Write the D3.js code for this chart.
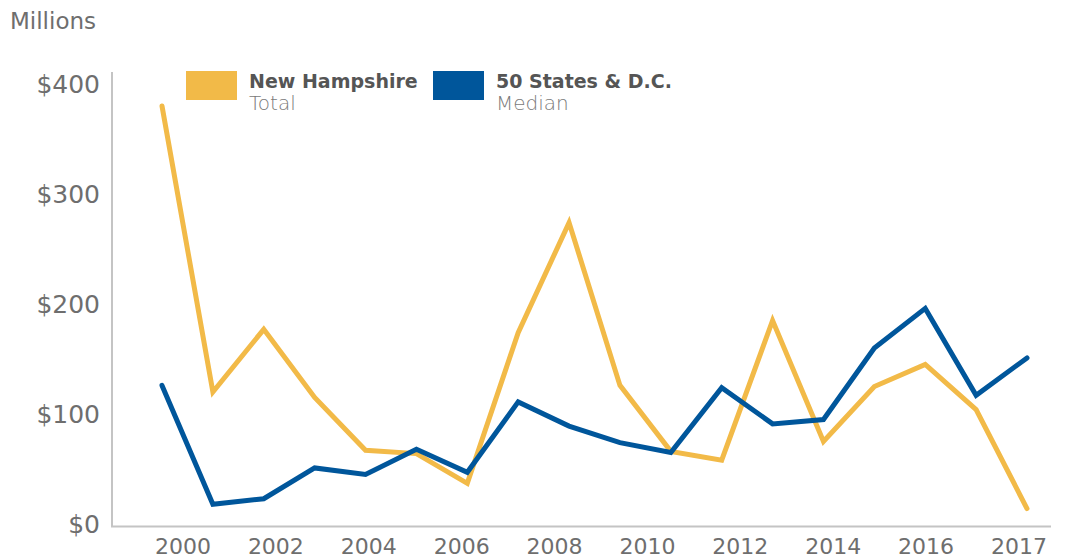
<!DOCTYPE html>
<html>
<head>
<meta charset="utf-8">
<script src="https://cdn.jsdelivr.net/npm/d3@7"></script>
<style>
  body { margin: 0; background: #fff; }
  svg text { font-family: "DejaVu Sans", sans-serif; }
</style>
</head>
<body>
<svg width="1066" height="560"></svg>
<script>
// data (millions of dollars)
const years = [2000, 2001, 2002, 2003, 2004, 2005, 2006, 2007, 2008, 2009,
               2010, 2011, 2012, 2013, 2014, 2015, 2016, 2017];
const newHampshire = [380, 120, 177, 115, 67, 64, 37, 174, 274, 126,
                      66, 58, 185, 75, 125, 145, 104, 14];
const statesMedian = [126, 18, 23, 51, 45, 68, 47, 111, 89, 74,
                      65, 124, 91, 95, 160, 196, 117, 151];
const xLabels = ["2000", "2002", "2004", "2006", "2008", "2010", "2012", "2014", "2016", "2017"];
const yTicks = [0, 100, 200, 300, 400];
const series = [
  { name: "New Hampshire", sub: "Total", values: newHampshire, color: "#F2BA48" },
  { name: "50 States & D.C.", sub: "Median", values: statesMedian, color: "#00569B" }
];

const svg = d3.select("svg");

const x = d3.scaleLinear().domain([2000, 2017]).range([162, 1027]);
const y = d3.scaleLinear().domain([0, 400]).range([524, 84]);

// axis lines
svg.append("line")
  .attr("x1", 112).attr("x2", 112)
  .attr("y1", 72).attr("y2", y(0) + 3)
  .attr("stroke", "#c4c4c4").attr("stroke-width", 2);
svg.append("line")
  .attr("x1", 111).attr("x2", 1051)
  .attr("y1", y(0) + 2.5).attr("y2", y(0) + 2.5)
  .attr("stroke", "#c4c4c4").attr("stroke-width", 2);

// y tick labels
svg.append("g")
  .selectAll("text")
  .data(yTicks)
  .enter()
  .append("text")
  .attr("x", 100)
  .attr("y", d => y(d))
  .attr("dy", "0.36em")
  .attr("text-anchor", "end")
  .attr("fill", "#6e6e6e")
  .style("font-size", "25px")
  .text(d => "$" + d);

svg.append("text")
  .attr("x", 10).attr("y", 29)
  .attr("fill", "#6e6e6e")
  .style("font-size", "23px")
  .text("Millions");

// x labels sit in one running row under the axis, evenly gapped
const xg = svg.append("g");
const xt = xg.selectAll("text")
  .data(xLabels)
  .enter()
  .append("text")
  .attr("y", 554)
  .attr("fill", "#6e6e6e")
  .style("font-size", "22px")
  .text(d => d);
const widths = xt.nodes().map(n => n.getComputedTextLength());
const gap = (1047 - 155 - d3.sum(widths)) / (xLabels.length - 1);
let cursor = 155;
xt.attr("x", (d, i) => {
  const pos = cursor;
  cursor += widths[i] + gap;
  return pos;
});

// lines
const line = d3.line()
  .x((d, i) => x(years[i]))
  .y(d => y(d));

svg.append("g")
  .selectAll("path")
  .data(series)
  .enter()
  .append("path")
  .attr("d", d => line(d.values))
  .attr("fill", "none")
  .attr("stroke", d => d.color)
  .attr("stroke-width", 5)
  .attr("stroke-linecap", "round")
  .attr("stroke-linejoin", "miter");

// legend
const legend = svg.append("g")
  .selectAll("g")
  .data(series)
  .enter()
  .append("g")
  .attr("transform", (d, i) => `translate(${186 + i * 247},71)`);
legend.append("rect")
  .attr("width", 51).attr("height", 29)
  .attr("fill", d => d.color);
legend.append("text")
  .attr("x", 63).attr("y", 17)
  .attr("fill", "#555")
  .style("font-size", "19px")
  .style("font-weight", "bold")
  .text(d => d.name);
legend.append("text")
  .attr("x", 63).attr("y", 39)
  .attr("fill", "#7a7a7a")
  .style("font-size", "20px")
  .style("font-weight", "300")
  .text(d => d.sub);
</script>
</body>
</html>
